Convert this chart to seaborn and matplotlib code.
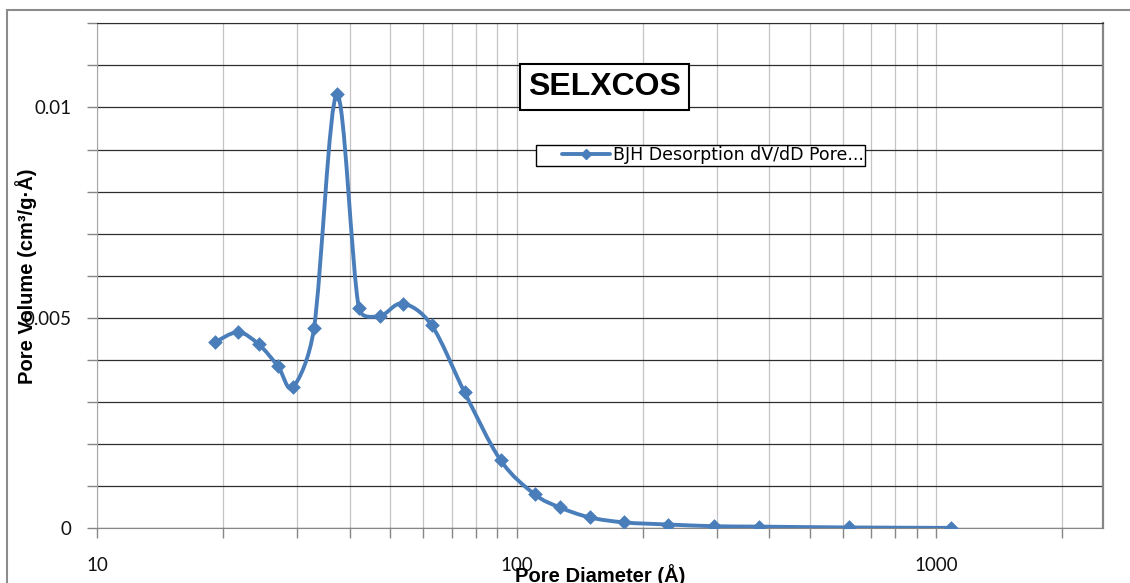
import numpy as np
import matplotlib
matplotlib.use("Agg")
import matplotlib.pyplot as plt
import seaborn as sns
from matplotlib.path import Path
from matplotlib.patches import PathPatch, Rectangle
from matplotlib.lines import Line2D
from matplotlib.legend_handler import HandlerLine2D
from matplotlib.ticker import LogLocator, MultipleLocator, FuncFormatter, NullFormatter

# BJH desorption pore size distribution
pore_diameter = [19.1, 21.7, 24.3, 27.0, 29.3, 32.9, 37.3, 42.1, 47.2, 53.5, 62.8,
                 75.2, 91.6, 110.4, 126.6, 149.3, 180.8, 230, 296, 379, 621, 1086]
pore_volume = [0.00442, 0.00466, 0.00437, 0.00385, 0.00335, 0.00475, 0.01031, 0.00523,
               0.00504, 0.00534, 0.00482, 0.00323, 0.00162, 0.00081, 0.00050, 0.00026,
               0.00014, 0.00009, 0.00005, 0.00004, 0.00002, 0.00001]
series_name = "BJH Desorption dV/dD Pore..."
chart_title = "SELXCOS"
x_label = "Pore Diameter (Å)"
y_label = "Pore Volume (cm³/g·Å)"

BLUE = "#4a7ebb"


def smooth_path(xs, ys, t=1 / 6, sx=420.0, sy=42060.0):
    """Excel-like smoothed line: cubic Bezier through the points.
    Works in log-x / screen-proportional space, handles are capped so
    short segments next to steep ones do not overshoot."""
    p = np.column_stack([np.log10(xs) * sx, np.asarray(ys) * sy])
    n = len(p)
    verts = [p[0]]
    codes = [Path.MOVETO]
    for i in range(n - 1):
        p0 = p[i - 1] if i > 0 else p[i]
        p1, p2 = p[i], p[i + 1]
        p3 = p[i + 2] if i + 2 < n else p[i + 1]
        seg = np.linalg.norm(p2 - p1)
        h1 = (p2 - p0) * t
        h2 = (p3 - p1) * t
        for h in (h1, h2):
            ln = np.linalg.norm(h)
            if ln > seg * 0.5:
                h *= seg * 0.5 / ln
        verts += [p1 + h1, p2 - h2, p2]
        codes += [Path.CURVE4] * 3
    verts = np.array(verts)
    verts[:, 0] = 10 ** (verts[:, 0] / sx)
    verts[:, 1] = verts[:, 1] / sy
    return Path(verts, codes)


class PaddedLineHandler(HandlerLine2D):
    def get_xdata(self, legend, xdescent, ydescent, width, height, fontsize):
        start = -xdescent + 0.34 * width
        end = -xdescent + width
        return np.array([start, end]), np.array([(start + end) / 2])


sns.set_style("white")
plt.rcParams["font.family"] = ["Lato", "DejaVu Sans"]
plt.rcParams["text.color"] = "black"

fig = plt.figure(figsize=(11.3, 5.83), dpi=100)
ax = fig.add_axes([97 / 1130, 1 - 528.3 / 583, 1006 / 1130, 505 / 583])

ax.set_xscale("log")
ax.add_patch(PathPatch(smooth_path(pore_diameter, pore_volume), fill=False,
                       edgecolor=BLUE, lw=2.8, capstyle="round", joinstyle="round", zorder=3))
sns.scatterplot(x=pore_diameter, y=pore_volume, marker="D", s=56, color=BLUE,
                edgecolor=BLUE, linewidth=0, legend=False, zorder=4, ax=ax)

ax.set_xlim(10, 2500)
ax.set_ylim(0, 0.012)

ax.xaxis.set_major_locator(LogLocator(base=10))
ax.xaxis.set_minor_locator(LogLocator(base=10, subs=np.arange(2, 10)))
ax.xaxis.set_major_formatter(FuncFormatter(lambda v, _: f"{v:g}"))
ax.xaxis.set_minor_formatter(NullFormatter())
ax.yaxis.set_major_locator(MultipleLocator(0.005))
ax.yaxis.set_minor_locator(MultipleLocator(0.001))
ax.yaxis.set_major_formatter(FuncFormatter(lambda v, _: f"{v:g}"))

ax.grid(which="both", axis="y", color="#2e2e2e", lw=0.9)
ax.grid(which="both", axis="x", color="#c4c4c4", lw=0.9)
ax.set_axisbelow(True)

ax.tick_params(axis="both", which="both", direction="out", color="#868686",
               length=7, width=1, bottom=True, left=True, labelsize=13.5,
               labelcolor="#111111")
ax.tick_params(axis="x", which="major", pad=14)
ax.tick_params(axis="y", which="major", pad=11.5)

ax.spines["top"].set_color("#2e2e2e")
ax.spines["left"].set_color("#a6a6a6")
ax.spines["bottom"].set_color("#868686")
ax.spines["right"].set_color("#868686")
ax.spines["right"].set_linewidth(1.6)

ax.set_xlabel(x_label, fontsize=14.5, fontweight="bold", family="Liberation Sans", color="black")
ax.set_ylabel(y_label, fontsize=14.5, fontweight="bold", family="Liberation Sans", color="black")
ax.xaxis.set_label_coords(0.5, -0.0707)
ax.yaxis.set_label_coords(-0.060, 0.5)

handle = Line2D([], [], color=BLUE, lw=2.8, marker="D", ms=5.5)
leg = ax.legend(handles=[handle], labels=[series_name], loc="upper left",
                bbox_to_anchor=(536 / 1130, 1 - 145 / 583), bbox_transform=fig.transFigure,
                borderaxespad=0, fancybox=False, framealpha=1, edgecolor="black",
                prop=dict(family="DejaVu Sans", size=12.5), handlelength=4.17,
                handletextpad=0.17, borderpad=0.08, handler_map={handle: PaddedLineHandler()})
leg.get_frame().set_linewidth(1)

fig.text(604.5 / 1130, 1 - 87 / 583, chart_title, ha="center", va="center",
         fontsize=23, fontweight="bold", family="Liberation Sans", color="black",
         bbox=dict(boxstyle="square,pad=0.25", fc="white", ec="black", lw=1.5))

fig.add_artist(Rectangle((7 / 1130, -0.5), 1.5, 1.5 - 10 / 583, transform=fig.transFigure,
                         fill=False, edgecolor="#8c8c8c", lw=1.5))

plt.savefig("out.png", dpi=100)
